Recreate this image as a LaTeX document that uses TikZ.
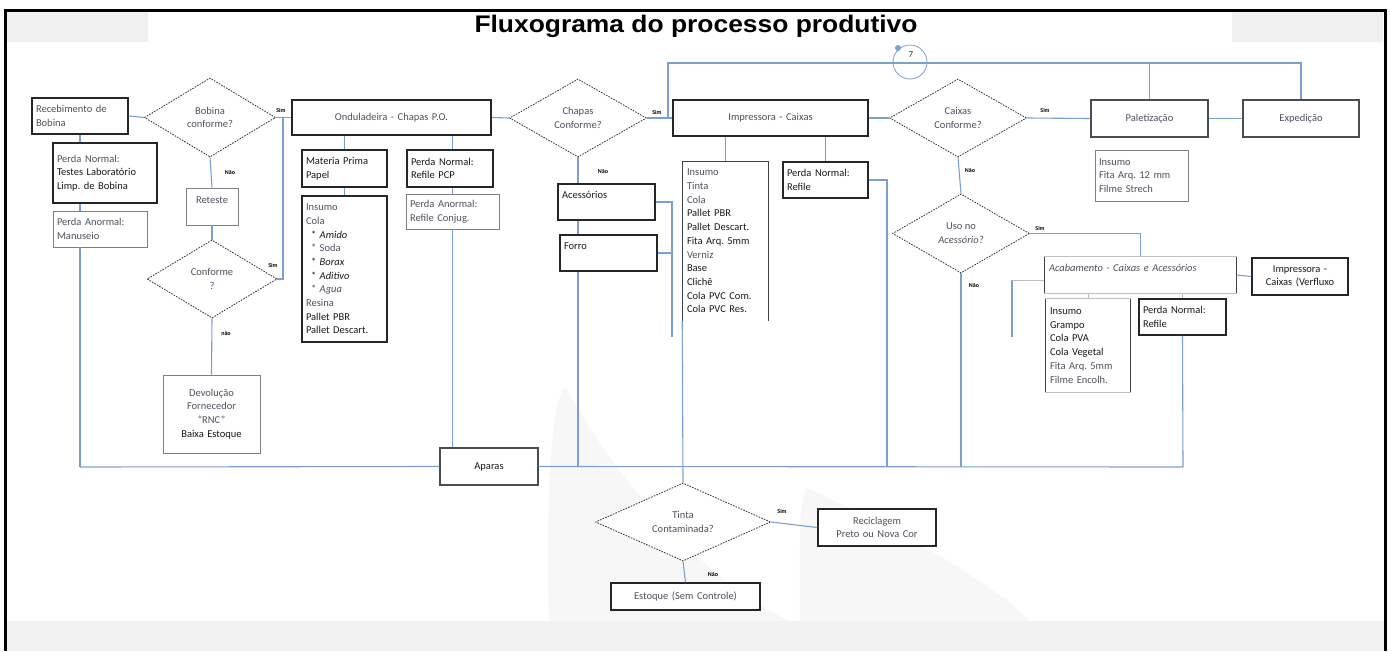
\documentclass[tikz,border=0pt]{standalone}
\usepackage{fontspec}
\setmainfont{Carlito}
\newfontfamily\titlefont[FakeStretch=1.1]{Liberation Sans}
\usetikzlibrary{shapes.geometric}
\frenchspacing
\definecolor{lnblue}{RGB}{122,160,210}
\definecolor{txtdark}{RGB}{25,25,25}
\definecolor{txtlight}{RGB}{80,80,95}
\newcommand\bodyfont{\fontsize{10.5}{13.7}\selectfont}
\newcommand\lblfont{\fontsize{6}{7}\selectfont\bfseries}
\newcommand\lgt[1]{\textcolor{txtlight}{#1}}
\tikzset{
  conn/.style={draw=lnblue, line width=1.1pt},
  faint/.style={draw=black!25, line width=0.7pt},
  side/.style={draw=black!75, line width=1.4pt},
  bx/.style={rectangle, draw=black!85, line width=1.5pt, fill=white, inner xsep=4pt, inner ysep=0pt, align=left, font=\bodyfont, text=txtdark},
  bxmid/.style={bx, draw=black!70, line width=1.1pt},
  bxthin/.style={bx, draw=black!50, line width=0.8pt},
  bxopen/.style={bx, draw=none},
  dia/.style={diamond, draw=black!80, line width=0.8pt, dash pattern=on 1.6pt off 1.2pt, fill=white, inner sep=0pt, shape aspect=1.7, align=center, font=\bodyfont, text=txtlight},
  lbl/.style={font=\lblfont, inner sep=0pt, text=black},
}
\begin{document}
\begin{tikzpicture}[x=1pt,y=-1pt]
\useasboundingbox (0,0) rectangle (1390,651);
\fill[white] (0,0) rectangle (1390,651);
% faint watermark
\fill[black!5] (5,621) rectangle (1385,651);
\fill[black!6] (7,12) rectangle (148,42);
\fill[black!6] (1232,12) rectangle (1383,42);
\fill[black!3] (549,621) .. controls (546,480) and (552,395) .. (566,388) .. controls (610,470) and (700,580) .. (790,621) -- cycle;
\fill[black!3] (800,621) .. controls (800,560) and (798,510) .. (806,488) .. controls (880,520) and (990,580) .. (1030,621) -- cycle;
% frame
\draw[line width=3pt] (5,651) -- (5,10) -- (1385,10) -- (1385,651);
\node[font=\titlefont\fontsize{24}{28}\selectfont\bfseries] (title) at (696,26) {Fluxograma do processo produtivo};

% coordinates
\coordinate (bl) at (80,467);
\coordinate (br) at (1183,467);
\coordinate (jn) at (283,279);
\coordinate (brk) at (672,337);
\coordinate (c887) at (887,467);
\coordinate (tl) at (668,63);
\coordinate (k1) at (1012,280);
\coordinate (k2) at (1012,337);

% left column
\node[bx, text width=88pt, minimum height=36pt] (rec) at (80,116) {\lgt{Recebimento de}\\\lgt{Bobina}};
\node[bx, text width=96pt, minimum height=60pt] (pn1) at (105,173) {\lgt{Perda Normal:}\\Testes Laboratório\\Limp. de Bobina};
\node[bxthin, text width=86pt, minimum height=36pt] (pa1) at (100,229) {\lgt{Perda Anormal:}\\\lgt{Manuseio}};
\node[dia, minimum width=131pt, minimum height=79pt] (d1) at (210,117.5) {Bobina\\conforme?};
\node[bxthin, align=center, text width=44pt, minimum height=37pt] (ret) at (212,206.5) {\lgt{Reteste}\\\mbox{}};
\node[dia, minimum width=130pt, minimum height=78pt] (d2) at (212,279) {Conforme\\?};
\node[bxthin, align=center, text width=89pt, minimum height=78pt] (dev) at (211.5,414) {\lgt{Devolução}\\\lgt{Fornecedor}\\\lgt{“RNC”}\\Baixa Estoque};

% Onduladeira
\node[bx, align=center, text width=191pt, minimum height=35pt] (ond) at (391.5,117.5) {\lgt{Onduladeira - Chapas P.O.}};
\node[bx, text width=77pt, minimum height=37pt] (mp) at (344.5,168.5) {Materia Prima\\Papel};
\node[bx, text width=77pt, minimum height=146pt] (ins1) at (344.5,269) {\lgt{Insumo}\\\lgt{Cola}\\\hspace*{5pt}* \textit{Amido}\\\hspace*{5pt}\lgt{* Soda}\\\hspace*{5pt}* \textit{Borax}\\\hspace*{5pt}* \textit{Aditivo}\\\hspace*{5pt}\lgt{* \textit{Agua}}\\\lgt{Resina}\\Pallet PBR\\Pallet Descart.};
\node[bx, text width=78pt, minimum height=37pt] (pn2) at (450,168.5) {Perda Normal:\\Refile PCP};
\node[bxthin, text width=85pt, minimum height=35pt] (pa2) at (452.5,211.5) {\lgt{Perda Anormal:}\\\lgt{Refile Conjug.}};
\node[bxmid, align=center, text width=90pt, minimum height=37pt] (aparas) at (489,466.5) {Aparas};

% Chapas
\node[dia, minimum width=137pt, minimum height=78pt] (d3) at (578,118) {Chapas\\Conforme?};
\node[bx, text width=89pt, minimum height=36pt] (acc) at (606.5,202) {Acessórios\\\mbox{}};
\node[bx, text width=89pt, minimum height=36pt] (forro) at (608.5,253) {Forro\\\mbox{}};

% Impressora
\node[bx, align=center, text width=187pt, minimum height=36pt] (imp) at (770.5,118) {\lgt{Impressora - Caixas}};
\node[bxopen, text width=77pt, minimum height=158pt] (ins2) at (725.5,241) {\lgt{Insumo}\\\lgt{Tinta}\\\lgt{Cola}\\Pallet PBR\\Pallet Descart.\\Fita Arq. 5mm\\\lgt{Verniz}\\Base\\Clichê\\Cola PVC Com.\\Cola PVC Res.};
\draw[side] (ins2.south west) -- (ins2.north west) -- (ins2.north east) -- (ins2.south east);
\node[bx, text width=77pt, minimum height=36pt] (pn3) at (825.5,180) {Perda Normal:\\Refile};

% Caixas
\node[dia, minimum width=137pt, minimum height=78pt] (d5) at (958,118) {Caixas\\Conforme?};
\node[bxmid, align=center, text width=109pt, minimum height=37pt] (pal) at (1149.5,118.5) {\lgt{Paletização}};
\node[bxmid, align=center, text width=108pt, minimum height=37pt] (exp) at (1301,118.5) {\lgt{Expedição}};
\node[bxthin, text width=85pt, minimum height=51pt] (ins3) at (1141.5,175.5) {\lgt{Insumo}\\\lgt{Fita Arq. 12 mm}\\\lgt{Filme Strech}};
\node[dia, minimum width=137pt, minimum height=79pt] (d6) at (961,233.5) {Uso no\\\textit{Acessório?}};
\node[bxopen, text width=183pt, minimum height=36pt] (acab) at (1140.5,275) {\lgt{\textit{Acabamento - Caixas e Acessórios}}\\\mbox{}};
\draw[side] (acab.north west) -- (acab.south west);
\draw[side] (acab.north east) -- (acab.south east);
\draw[faint] (acab.north west) -- (acab.north east);
\draw[faint] (acab.south west) -- (acab.south east);
\node[bx, align=center, text width=88pt, minimum height=37pt] (impv) at (1300,276.5) {Impressora -\\Caixas (Verfluxo};
\node[bxopen, text width=76pt, minimum height=93pt] (ins4) at (1088,345.5) {Insumo\\Grampo\\Cola PVA\\Cola Vegetal\\\lgt{Fita Arq. 5mm}\\\lgt{Filme Encolh.}};
\draw[side] (ins4.north west) -- (ins4.south west);
\draw[side] (ins4.north east) -- (ins4.south east);
\draw[faint] (ins4.north west) -- (ins4.north east);
\draw[faint] (ins4.south west) -- (ins4.south east);
\node[bx, text width=79pt, minimum height=36pt] (pn4) at (1182.5,317) {Perda Normal:\\Refile};

% Tinta
\node[dia, minimum width=175pt, minimum height=78pt] (d4) at (683,522) {Tinta\\Contaminada?};
\node[bx, align=center, text width=110pt, minimum height=37pt] (rec2) at (877,527.5) {\lgt{Reciclagem}\\\lgt{Preto ou Nova Cor}};
\node[bx, align=center, text width=141pt, minimum height=27pt] (est) at (685.5,596.5) {\lgt{Estoque (Sem Controle)}};

% connectors
\draw[conn] (rec.east) -- (d1.west);
\draw[conn] (rec.south) -- (rec.south |- pn1.north);
\draw[conn] (rec.south |- pn1.south) -- (rec.south |- pa1.north);
\draw[conn] (rec.south |- pa1.south) -- (bl);
\draw[conn] (d1.east) -- (ond.west);
\draw[conn] (d1.south) -- (ret.north);
\draw[conn] (ret.south) -- (d2.north);
\draw[conn] (d2.east) -- (jn) -- (jn |- ond.west);
\draw[conn] (d2.south) -- (dev.north);
\draw[conn] (bl) -- (aparas.west);
\draw[conn] (aparas.east) -- (br);
\draw[conn] (ond.south -| mp.north) -- (mp.north);
\draw[conn] (mp.south) -- (ins1.north);
\draw[conn] (ond.south -| pa2.north) -- (pn2.north -| pa2.north);
\draw[conn] (pn2.south -| pa2.north) -- (pa2.north);
\draw[conn] (pa2.south) -- (pa2.south |- aparas.north);
\draw[conn] (ond.east) -- (d3.west);
\draw[conn] (d3.east) -- (imp.west);
\draw[conn] (d3.south) -- (d3.south |- acc.north);
\draw[conn] (d3.south |- acc.south) -- (d3.south |- forro.north);
\draw[conn] (d3.south |- forro.south) -- (d3.south |- bl);
\draw[conn] (acc.east) -| (brk);
\draw[conn] (forro.east) -- (forro.east -| brk);
\draw[conn] (imp.south -| ins2.north) -- (ins2.north);
\draw[conn] (imp.south -| pn3.north) -- (pn3.north);
\draw[conn] (ins2.south west) -- (d4.north);
\draw[conn] (pn3.east) -| (c887);
\draw[conn] (imp.east) -- (d5.west);
\draw[conn] (d5.east) -- (pal.west);
\draw[conn] (pal.east) -- (exp.west);
\draw[conn] (imp.west -| tl) -- (tl) -- (tl -| exp.north) -- (exp.north);
\draw[conn] (tl -| pal.north) -- (pal.north);
\draw[conn] (d5.south) -- (d6.north);
\draw[conn] (d6.east) -| (acab.north);
\draw[conn] (d6.south) -- (d6.south |- bl);
\draw[conn] (acab.east) -- (impv.west);
\draw[faint] (acab.south -| ins4.north) -- (ins4.north);
\draw[faint] (acab.south -| pn4.north) -- (pn4.north);
\draw[conn] (pn4.south) -- (br);
\draw[conn] (k1) -- (k2);
\draw[faint] (k1) -- (k1 -| acab.west);
\draw[conn] (d4.east) -- (rec2.west);
\draw[conn] (d4.south) -- (est.north);

% comment marker circle
\node[circle, draw=lnblue, line width=0.8pt, minimum size=34pt, inner sep=0pt] (c7) at (910,62) {};
\fill[lnblue] (898,48) circle (3pt);
\node[font=\fontsize{9}{10}\selectfont, text=black!80] (n7) at (911,55) {7};

% labels
\node[lbl] (l1) at (281,110) {Sim};
\node[lbl] (l2) at (273,265) {Sim};
\node[lbl] (l3) at (230,172) {Não};
\node[lbl] (l4) at (226,333) {não};
\node[lbl] (l5) at (657,112) {Sim};
\node[lbl] (l6) at (603,171) {Não};
\node[lbl] (l7) at (1045,110) {Sim};
\node[lbl] (l8) at (970,170) {Não};
\node[lbl] (l9) at (1040,228) {Sim};
\node[lbl] (l10) at (974,285) {Não};
\node[lbl] (l11) at (782,511) {Sim};
\node[lbl] (l12) at (713,574) {Não};
\end{tikzpicture}
\end{document}
